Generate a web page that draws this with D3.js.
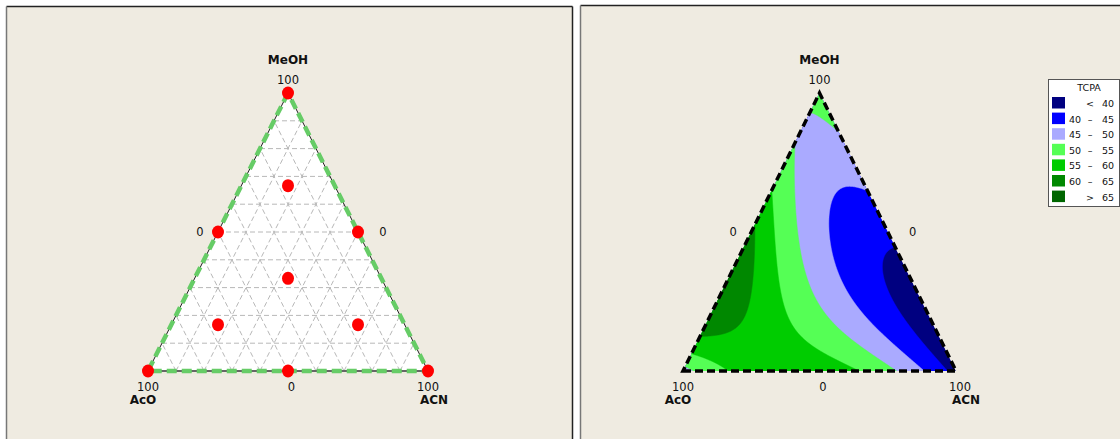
<!DOCTYPE html>
<html>
<head>
<meta charset="utf-8">
<script src="https://cdn.jsdelivr.net/npm/d3@7"></script>
<style>
body { margin: 0; background: #fff; }
text { font-family: "DejaVu Sans", Verdana, sans-serif; fill: #111; }
</style>
</head>
<body>
<svg id="chart" width="1120" height="439"></svg>
<script>
// mixture components, barycentric order [AcO, ACN, MeOH]
var components = ["AcO", "ACN", "MeOH"];
var vertexTicks = ["100", "100", "100"];
var edgeTicks = ["0", "0", "0"]; // AcO-MeOH edge, ACN-MeOH edge, AcO-ACN edge

// simplex centroid design with axial points
var designPoints = [
  [1, 0, 0], [0, 1, 0], [0, 0, 1],
  [0.5, 0.5, 0], [0.5, 0, 0.5], [0, 0.5, 0.5],
  [1/3, 1/3, 1/3],
  [2/3, 1/6, 1/6], [1/6, 2/3, 1/6], [1/6, 1/6, 2/3]
];
var gridSteps = [0.1, 0.2, 0.3, 0.4, 0.5, 0.6, 0.7, 0.8, 0.9];

// TCPA response, fitted cubic mixture model (estimated from the plot)
var modelTerms = ["AcO", "ACN", "MeOH", "AcO*ACN", "AcO*MeOH", "ACN*MeOH",
  "AcO*ACN*(AcO-ACN)", "AcO*MeOH*(AcO-MeOH)", "ACN*MeOH*(ACN-MeOH)", "AcO*ACN*MeOH"];
var modelCoefs = [48, 38, 52, 60, 44, -15, 4, 82, -20, -212];

var bandBreaks = [40, 45, 50, 55, 60, 65];
var bandLabels = [["", "<", "40"], ["40", "–", "45"], ["45", "–", "50"], ["50", "–", "55"],
  ["55", "–", "60"], ["60", "–", "65"], ["", ">", "65"]];
var bandColors = ["#000080", "#0000ff", "#aaaaff", "#55ff55", "#00cc00", "#008800", "#006600"];

var svg = d3.select("#chart");
var panelFill = "#efebe1";

function tcpa(a, b, m) {
  var t = [a, b, m, a*b, a*m, b*m, a*b*(a-b), a*m*(a-m), b*m*(b-m), a*b*m];
  return d3.sum(t, function(v, i) { return v * modelCoefs[i]; });
}

function makeTri(left, right, top, bottom) {
  var x = d3.scaleLinear().domain([0, 1]).range([left, right]),
      y = d3.scaleLinear().domain([0, 1]).range([bottom, top]);
  return {
    x: x, y: y,
    pt: function(p) { return [x(p[1] + p[2] / 2), y(p[2])]; }
  };
}

// panels
function panel(x0, y0, x1) {
  svg.append("rect").attr("x", x0).attr("y", y0).attr("width", x1 - x0).attr("height", 460)
    .attr("fill", panelFill);
  svg.append("line").attr("x1", x0).attr("x2", x1).attr("y1", y0).attr("y2", y0)
    .attr("stroke", "#222").attr("stroke-width", 1.5);
  svg.append("line").attr("x1", x0).attr("x2", x0).attr("y1", y0).attr("y2", 439)
    .attr("stroke", "#777").attr("stroke-width", 1.5);
  if (x1 < 1120)
    svg.append("line").attr("x1", x1).attr("x2", x1).attr("y1", y0).attr("y2", 439)
      .attr("stroke", "#222").attr("stroke-width", 1.5);
}
panel(6.5, 6.5, 572.5);
panel(580.5, 5.5, 1125);

function labels(tri, dxRight) {
  var T = tri.pt([0, 0, 1]), L = tri.pt([1, 0, 0]), R = tri.pt([0, 1, 0]);
  var g = svg.append("g");
  g.append("text").attr("x", T[0]).attr("y", 64).attr("text-anchor", "middle")
    .attr("font-weight", "bold").attr("font-size", 12).text(components[2]);
  g.append("text").attr("x", T[0]).attr("y", 84).attr("text-anchor", "middle")
    .attr("font-size", 11.5).text(vertexTicks[2]);
  g.append("text").attr("x", L[0]).attr("y", 391).attr("text-anchor", "middle")
    .attr("font-size", 11.5).text(vertexTicks[0]);
  g.append("text").attr("x", L[0] - 5).attr("y", 404).attr("text-anchor", "middle")
    .attr("font-weight", "bold").attr("font-size", 12).text(components[0]);
  g.append("text").attr("x", R[0] + dxRight).attr("y", 391).attr("text-anchor", "middle")
    .attr("font-size", 11.5).text(vertexTicks[1]);
  g.append("text").attr("x", R[0] + dxRight + 6).attr("y", 404).attr("text-anchor", "middle")
    .attr("font-weight", "bold").attr("font-size", 12).text(components[1]);
  var ml = tri.pt([0.5, 0, 0.5]), mr = tri.pt([0, 0.5, 0.5]), mb = tri.pt([0.5, 0.5, 0]);
  g.append("text").attr("x", ml[0] - 18).attr("y", 236).attr("text-anchor", "middle")
    .attr("font-size", 11.5).text(edgeTicks[0]);
  g.append("text").attr("x", mr[0] + 25).attr("y", 236).attr("text-anchor", "middle")
    .attr("font-size", 11.5).text(edgeTicks[1]);
  g.append("text").attr("x", mb[0] + 3.5).attr("y", 391).attr("text-anchor", "middle")
    .attr("font-size", 11.5).text(edgeTicks[2]);
}

// ---- left: design points ----
var t1 = makeTri(148, 428, 93, 371);
var corners1 = [[1, 0, 0], [0, 1, 0], [0, 0, 1]].map(t1.pt);
var line = d3.line();
var g1 = svg.append("g");
g1.append("path").attr("d", line(corners1) + "Z").attr("fill", "#fff");

var gridLines = [];
gridSteps.forEach(function(t) {
  gridLines.push([[1 - t, 0, t], [0, 1 - t, t]]);
  gridLines.push([[1 - t, t, 0], [0, t, 1 - t]]);
  gridLines.push([[t, 1 - t, 0], [t, 0, 1 - t]]);
});
g1.selectAll(".grid").data(gridLines).enter().append("path")
  .attr("class", "grid")
  .attr("d", function(d) { return line(d.map(t1.pt)); })
  .attr("fill", "none").attr("stroke", "#b8b8b8").attr("stroke-width", 1)
  .attr("stroke-dasharray", "5,3");

g1.append("path").attr("d", line(corners1) + "Z").attr("fill", "none")
  .attr("stroke", "#222").attr("stroke-width", 1);
g1.append("path").attr("d", line([corners1[0], corners1[1]])).attr("fill", "none")
  .attr("stroke", "#666").attr("stroke-width", 2);
g1.append("path").attr("d", line([corners1[2], corners1[0], corners1[1], corners1[2]]))
  .attr("fill", "none").attr("stroke", "#66cc66").attr("stroke-width", 4.5)
  .attr("stroke-dasharray", "10,5");

g1.selectAll(".pt").data(designPoints).enter().append("ellipse")
  .attr("class", "pt")
  .attr("cx", function(d) { return t1.pt(d)[0]; })
  .attr("cy", function(d) { return t1.pt(d)[1]; })
  .attr("rx", 6).attr("ry", 6.5).attr("fill", "#ff0000");
labels(t1, 0);

// ---- right: contour plot ----
var t2 = makeTri(683, 956, 93, 371);
var corners2 = [[1, 0, 0], [0, 1, 0], [0, 0, 1]].map(t2.pt);
var x0 = 680, y0 = 90, nx = 280, ny = 285;
var values = new Array(nx * ny);
for (var j = 0; j < ny; j++) {
  for (var i = 0; i < nx; i++) {
    var m = t2.y.invert(y0 + j + 0.5);
    var b = t2.x.invert(x0 + i + 0.5) - m / 2;
    values[j * nx + i] = tcpa(1 - b - m, b, m);
  }
}
var contours = d3.contours().size([nx, ny]).thresholds(bandBreaks)(values);

svg.append("clipPath").attr("id", "triClip")
  .append("path").attr("d", line(corners2) + "Z");
var g2 = svg.append("g").attr("clip-path", "url(#triClip)");
g2.append("path").attr("d", line(corners2) + "Z").attr("fill", bandColors[0]);
g2.append("g").attr("transform", "translate(" + x0 + "," + y0 + ")")
  .selectAll("path").data(contours).enter().append("path")
  .attr("d", d3.geoPath())
  .attr("fill", function(d, i) { return bandColors[i + 1]; })
  .attr("stroke", function(d, i) { return bandColors[i + 1]; })
  .attr("stroke-width", 0.5);

svg.append("path").attr("d", line(corners2) + "Z").attr("fill", "none")
  .attr("stroke", "#000").attr("stroke-width", 3.5).attr("stroke-dasharray", "8,4");
labels(t2, 4);

// legend
var lg = svg.append("g").attr("transform", "translate(1048,79)");
lg.append("rect").attr("x", 0.5).attr("y", 0.5).attr("width", 71).attr("height", 127)
  .attr("fill", "#fff").attr("stroke", "#555").attr("stroke-width", 1);
lg.append("text").attr("x", 41).attr("y", 12).attr("text-anchor", "middle")
  .attr("font-size", 9.5).text("TCPA");
var rows = lg.selectAll(".row").data(bandColors).enter().append("g")
  .attr("class", "row")
  .attr("transform", function(d, i) { return "translate(0," + (18 + i * 15.6) + ")"; });
rows.append("rect").attr("x", 4).attr("y", 0).attr("width", 13).attr("height", 11.5)
  .attr("fill", function(d) { return d; });
[27, 42, 60].forEach(function(cx, k) {
  rows.append("text").attr("x", cx).attr("y", 10).attr("text-anchor", "middle")
    .attr("font-size", 9.5).text(function(d, i) { return bandLabels[i][k]; });
});
</script>
</body>
</html>
